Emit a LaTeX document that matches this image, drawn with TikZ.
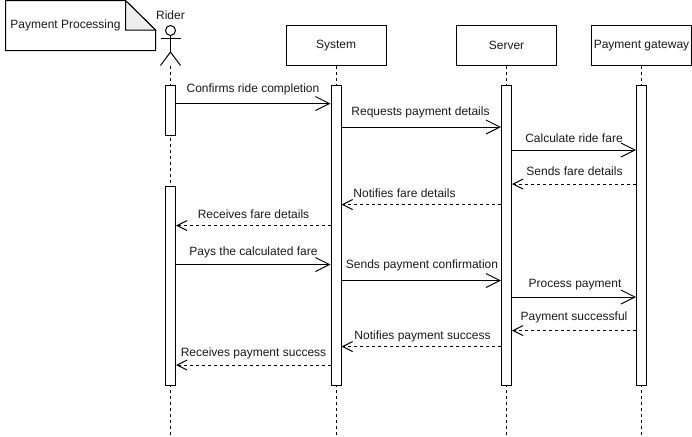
\documentclass[tikz,border=0pt]{standalone}
\usepackage{fontspec}
\setmainfont{Liberation Sans}
\usetikzlibrary{arrows.meta,positioning}
\definecolor{ppink}{RGB}{26,26,26}
\definecolor{ppfold}{RGB}{238,238,238}
\tikzstyle{lifebox} = [rectangle, draw=black, fill=white, minimum width=75pt, minimum height=30pt, inner sep=0pt, text=ppink]
\tikzstyle{actbar} = [rectangle, draw=black, fill=white, minimum width=7.5pt, inner sep=0pt]
\tikzstyle{lifeline} = [draw=black, dash pattern=on 2.25pt off 2.25pt]
\tikzstyle{msg} = [draw=black, -{Straight Barb[length=10.5pt,width=10.5pt]}]
\tikzstyle{reply} = [draw=black, dash pattern=on 2.25pt off 2.25pt, -{Straight Barb[length=7.5pt,width=7.5pt]}]
\tikzstyle{msglabel} = [inner sep=0pt, text=ppink]

\begin{document}
\begin{tikzpicture}[x=0.75pt, y=-0.75pt, line width=0.75pt, font=\fontsize{9pt}{11pt}\selectfont]
    \useasboundingbox (0,0) rectangle (692,436);

    % Note
    \draw[fill=white] (5.5,0.5) -- (125.5,0.5) -- (155.5,30) -- (155.5,50.5) -- (5.5,50.5) -- cycle;
    \draw[fill=ppfold] (125.5,0.5) -- (125.5,30) -- (155.5,30) -- cycle;
    \node[msglabel] (note) at (65.5,25.5) {Payment Processing};

    % Actor
    \node[msglabel] (ridername) at (170.5,15.5) {Rider};
    \node[circle, draw=black, fill=white, minimum size=7.5pt, inner sep=0pt] (riderhead) at (170.5,30.5) {};
    \coordinate (riderhip) at (170.5,52);
    \coordinate (riderarml) at (160.5,38.5);
    \coordinate (riderarmr) at (180.5,38.5);
    \coordinate (riderlegl) at (160.5,65.5);
    \coordinate (riderlegr) at (180.5,65.5);
    \coordinate (riderfoot) at (170.5,65.5);
    \draw (riderhead.south) -- (riderhip);
    \draw (riderarml) -- (riderarmr);
    \draw (riderlegl) -- (riderhip) -- (riderlegr);

    % Lifeline boxes
    \node[lifebox] (system) at (336,45.5) {System};
    \node[lifebox] (server) at (506.5,45.5) {Server};
    \node[lifebox] (gateway) at (641.5,45.5) {Payment gateway};

    % Lifelines
    \coordinate (bottom) at (0,435);
    \draw[lifeline] (riderfoot) -- (riderfoot |- bottom);
    \draw[lifeline] (system.south) -- (system.south |- bottom);
    \draw[lifeline] (server.south) -- (server.south |- bottom);
    \draw[lifeline] (gateway.south) -- (gateway.south |- bottom);

    % Activation bars
    \node[actbar, minimum height=37.5pt] (riderbarA) at (170.5,110.5) {};
    \node[actbar, minimum height=149.25pt] (riderbarB) at (170.5,285.5) {};
    \node[actbar, minimum height=225pt] (systembar) at (336,235.5) {};
    \node[actbar, minimum height=225pt] (serverbar) at (506.5,235.5) {};
    \node[actbar, minimum height=225pt] (gatewaybar) at (641.5,235.5) {};

    % Messages
    \coordinate (m1) at (0,103.5);
    \coordinate (m2) at (0,127);
    \coordinate (m3) at (0,150);
    \coordinate (m4) at (0,184);
    \coordinate (m5) at (0,204.5);
    \coordinate (m6) at (0,225.5);
    \coordinate (m7) at (0,264.5);
    \coordinate (m8) at (0,280.5);
    \coordinate (m9) at (0,297);
    \coordinate (m10) at (0,330.5);
    \coordinate (m11) at (0,346.5);
    \coordinate (m12) at (0,365);
    \draw[msg] (riderbarA.east |- m1) -- (systembar.west |- m1);
    \draw[msg] (systembar.east |- m2) -- (serverbar.west |- m2);
    \draw[msg] (serverbar.east |- m3) -- (gatewaybar.west |- m3);
    \draw[reply] (gatewaybar.west |- m4) -- (serverbar.east |- m4);
    \draw[reply] (serverbar.west |- m5) -- (systembar.east |- m5);
    \draw[reply] (systembar.west |- m6) -- (riderbarB.east |- m6);
    \draw[msg] (riderbarB.east |- m7) -- (systembar.west |- m7);
    \draw[msg] (systembar.east |- m8) -- (serverbar.west |- m8);
    \draw[msg] (serverbar.east |- m9) -- (gatewaybar.west |- m9);
    \draw[reply] (gatewaybar.west |- m10) -- (serverbar.east |- m10);
    \draw[reply] (serverbar.west |- m11) -- (systembar.east |- m11);
    \draw[reply] (systembar.west |- m12) -- (riderbarB.east |- m12);

    % Labels
    \node[msglabel] (l1) at (253,89) {Confirms ride completion};
    \node[msglabel] (l2) at (420.5,112.5) {Requests payment details};
    \node[msglabel] (l3) at (574,138.5) {Calculate ride fare};
    \node[msglabel] (l4) at (574.5,171.5) {Sends fare details};
    \node[msglabel] (l5) at (404.5,193.5) {Notifies fare details};
    \node[msglabel] (l6) at (253.5,214.5) {Receives fare details};
    \node[msglabel] (l7) at (253.5,252) {Pays the calculated fare};
    \node[msglabel] (l8) at (422,265.5) {Sends payment confirmation};
    \node[msglabel] (l9) at (575,285) {Process payment};
    \node[msglabel] (l10) at (574,317.5) {Payment successful};
    \node[msglabel] (l11) at (422.5,336) {Notifies payment success};
    \node[msglabel] (l12) at (253.5,353.5) {Receives payment success};
\end{tikzpicture}
\end{document}
